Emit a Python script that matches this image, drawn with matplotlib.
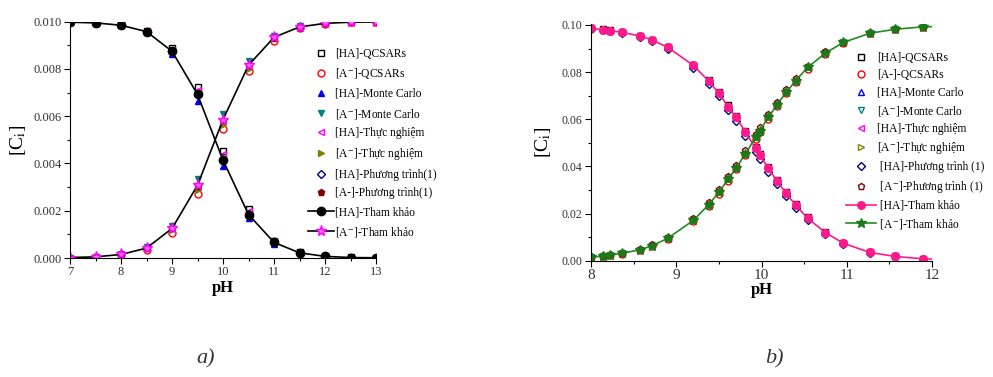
import numpy as np
import matplotlib.pyplot as plt
from matplotlib.ticker import MultipleLocator, FormatStrFormatter

plt.rcParams['font.family'] = ['Liberation Serif', 'DejaVu Serif']
plt.rcParams['mathtext.fontset'] = 'stix'

# ---------- panel a) data ----------
ph_a = [7, 7.5, 8, 8.5, 9, 9.5, 10, 10.5, 11, 11.5, 12, 12.5, 13]
ha_qcsar_a = [0.00998, 0.00995, 0.00986, 0.00962, 0.00890, 0.00722, 0.00452, 0.00208, 0.00072, 0.00024, 0.00008, 0.00003, 0.00001]
a_qcsar_a = [0.00002, 0.00005, 0.00013, 0.00034, 0.00105, 0.00272, 0.00544, 0.00790, 0.00920, 0.00975, 0.00992, 0.00997, 0.00999]
ha_mc_a = [0.00998, 0.00994, 0.00984, 0.00955, 0.00863, 0.00665, 0.00390, 0.00168, 0.00060, 0.00020, 0.00006, 0.00002, 0.00001]
a_mc_a = [0.00002, 0.00006, 0.00016, 0.00045, 0.00137, 0.00333, 0.00610, 0.00832, 0.00940, 0.00980, 0.00994, 0.00998, 0.00999]
ha_tn_a = [0.00998, 0.00995, 0.00985, 0.00960, 0.00880, 0.00712, 0.00440, 0.00200, 0.00070, 0.00023, 0.00007, 0.00002, 0.00001]
a_tn_a = [0.00002, 0.00005, 0.00015, 0.00040, 0.00118, 0.00288, 0.00562, 0.00800, 0.00930, 0.00977, 0.00993, 0.00998, 0.00999]
ha_pt_a = [0.00998, 0.00995, 0.00985, 0.00958, 0.00875, 0.00695, 0.00415, 0.00185, 0.00068, 0.00022, 0.00007, 0.00002, 0.00001]
a_pt_a = [0.00002, 0.00005, 0.00015, 0.00042, 0.00125, 0.00305, 0.00585, 0.00815, 0.00932, 0.00978, 0.00993, 0.00998, 0.00999]
ha_ref_a = [0.00998, 0.00995, 0.00985, 0.00958, 0.00875, 0.00692, 0.00414, 0.00184, 0.00066, 0.00022, 0.00007, 0.00002, 0.00001]
a_ref_a = [0.00002, 0.00005, 0.00015, 0.00042, 0.00125, 0.00308, 0.00586, 0.00816, 0.00934, 0.00978, 0.00993, 0.00998, 0.00999]

# ---------- panel b) data ----------
ph_b = [8.0, 8.14, 8.22, 8.36, 8.58, 8.72, 8.9, 9.2, 9.38, 9.5, 9.61, 9.7, 9.81,
        9.93, 9.98, 10.08, 10.18, 10.29, 10.4, 10.54, 10.75, 10.96, 11.27, 11.57, 11.89]
ha_qcsar_b = [0.0986, 0.0981, 0.0977, 0.0970, 0.0954, 0.0937, 0.0906, 0.0832, 0.0767, 0.0715, 0.0660, 0.0613, 0.0552,
              0.0482, 0.0452, 0.0397, 0.0343, 0.0290, 0.0240, 0.0185, 0.0122, 0.0076, 0.0036, 0.0019, 0.0009]
a_qcsar_b = [0.0014, 0.0019, 0.0023, 0.0030, 0.0046, 0.0063, 0.0094, 0.0168, 0.0233, 0.0285, 0.0340, 0.0387, 0.0448,
             0.0518, 0.0548, 0.0603, 0.0657, 0.0710, 0.0760, 0.0815, 0.0878, 0.0924, 0.0964, 0.0981, 0.0991]
ha_pt_b = [0.0985, 0.0980, 0.0975, 0.0967, 0.0950, 0.0931, 0.0898, 0.0818, 0.0750, 0.0697, 0.0640, 0.0593, 0.0530,
           0.0462, 0.0433, 0.0377, 0.0325, 0.0273, 0.0225, 0.0172, 0.0112, 0.0071, 0.0034, 0.0018, 0.0008]
a_pt_b = [0.0015, 0.0021, 0.0025, 0.0033, 0.0050, 0.0069, 0.0102, 0.0182, 0.0250, 0.0303, 0.0360, 0.0407, 0.0470,
          0.0538, 0.0567, 0.0623, 0.0675, 0.0727, 0.0775, 0.0828, 0.0888, 0.0929, 0.0966, 0.0982, 0.0992]
ha_ref_b = [0.0986, 0.0980, 0.0976, 0.0969, 0.0953, 0.0936, 0.0905, 0.0829, 0.0762, 0.0710, 0.0653, 0.0608, 0.0547,
            0.0477, 0.0448, 0.0392, 0.0338, 0.0286, 0.0236, 0.0180, 0.0119, 0.0074, 0.0035, 0.0018, 0.0008]
a_ref_b = [0.0014, 0.0020, 0.0024, 0.0031, 0.0047, 0.0064, 0.0095, 0.0171, 0.0238, 0.0290, 0.0347, 0.0392, 0.0453,
           0.0523, 0.0552, 0.0608, 0.0662, 0.0714, 0.0764, 0.0820, 0.0881, 0.0926, 0.0965, 0.0982, 0.0992]

AM = r'[A$^{-}$]'

fig = plt.figure(figsize=(9.93, 3.77), dpi=100)
ax1 = fig.add_axes([0.0705, 0.3156, 0.3082, 0.6268])
ax2 = fig.add_axes([0.5952, 0.3085, 0.3434, 0.6277])

ms = 5
# panel a
ax1.plot(ph_a, ha_qcsar_a, 's', mfc='none', mec='black', ms=ms, label='[HA]-QCSARs')
ax1.plot(ph_a, a_qcsar_a, 'o', mfc='none', mec='red', ms=ms, label=AM + '-QCSARs')
ax1.plot(ph_a, ha_mc_a, '^', color='blue', ms=ms, label='[HA]-Monte Carlo')
ax1.plot(ph_a, a_mc_a, 'v', color='#008080', ms=ms, label=AM + '-Monte Carlo')
ax1.plot(ph_a, ha_tn_a, '<', mfc='none', mec='magenta', ms=ms, label='[HA]-Thực nghiệm')
ax1.plot(ph_a, a_tn_a, '>', color='#808000', ms=ms, label=AM + '-Thực nghiệm')
ax1.plot(ph_a, ha_pt_a, 'D', mfc='none', mec='#000080', ms=4, label='[HA]-Phương trình(1)')
ax1.plot(ph_a, a_pt_a, 'p', color='#800000', ms=ms, label='[A-]-Phương trình(1)')
ax1.plot(ph_a, ha_ref_a, '-o', color='black', lw=1.2, ms=6, label='[HA]-Tham khảo')
ax1.plot(ph_a, a_ref_a, '-*', color='black', mfc='#ff66ff', mec='magenta', lw=1.2, ms=8, label=AM + '-Tham khảo')

ax1.set_xlim(7, 13)
ax1.set_ylim(0, 0.010)
ax1.xaxis.set_major_locator(MultipleLocator(1))
ax1.xaxis.set_minor_locator(MultipleLocator(0.5))
ax1.yaxis.set_major_locator(MultipleLocator(0.002))
ax1.yaxis.set_minor_locator(MultipleLocator(0.001))
ax1.yaxis.set_major_formatter(FormatStrFormatter('%.3f'))
ax1.set_xlabel('pH', fontsize=12, fontweight='bold', labelpad=1)
ax1.set_ylabel(r'[C$_\mathrm{i}$]', fontsize=14, labelpad=4)
ax1.legend(loc='upper left', bbox_to_anchor=(0.76, 0.915), frameon=False, fontsize=8.3,
           handlelength=2.2, handletextpad=0.1, labelspacing=0.58, borderpad=0)

# panel b
ax2.plot(ph_b, ha_qcsar_b, 's', mfc='none', mec='black', ms=ms, label='[HA]-QCSARs')
ax2.plot(ph_b, a_qcsar_b, 'o', mfc='none', mec='red', ms=ms, label='[A-]-QCSARs')
ax2.plot(ph_b, ha_ref_b, '^', mfc='none', mec='blue', ms=ms, label='[HA]-Monte Carlo')
ax2.plot(ph_b, a_ref_b, 'v', mfc='none', mec='#008080', ms=ms, label=AM + '-Monte Carlo')
ax2.plot(ph_b, ha_ref_b, '<', mfc='none', mec='magenta', ms=ms, label='[HA]-Thực nghiệm')
ax2.plot(ph_b, a_ref_b, '>', mfc='none', mec='#808000', ms=ms, label=AM + '-Thực nghiệm')
ax2.plot(ph_b, ha_pt_b, 'D', mfc='none', mec='#000080', ms=4.5, label=' [HA]-Phương trình (1)')
ax2.plot(ph_b, a_pt_b, 'p', mfc='none', mec='#800000', ms=ms, label=' ' + AM + '-Phương trình (1)')
ax2.plot(ph_b + [12.0], ha_ref_b + [0.0007], '-', color='#ff1a8c', lw=1.2)
ax2.plot(ph_b, ha_ref_b, 'o', color='#ff1a8c', ms=5.5)
ax2.plot(ph_b + [12.0], a_ref_b + [0.0993], '-', color='#228b22', lw=1.2)
ax2.plot(ph_b, a_ref_b, '*', color='#1a7a1a', ms=7)
ax2.plot([], [], '-o', color='#ff1a8c', lw=1.2, ms=5.5, label=' [HA]-Tham khảo')
ax2.plot([], [], '-*', color='#228b22', mfc='#1a7a1a', mec='#1a7a1a', lw=1.2, ms=7, label=' ' + AM + '-Tham khảo')

ax2.set_xlim(8, 12)
ax2.set_ylim(0, 0.1004)
ax2.xaxis.set_major_locator(MultipleLocator(1))
ax2.xaxis.set_minor_locator(MultipleLocator(0.5))
ax2.yaxis.set_major_locator(MultipleLocator(0.02))
ax2.yaxis.set_minor_locator(MultipleLocator(0.01))
ax2.yaxis.set_major_formatter(FormatStrFormatter('%.2f'))
ax2.set_xlabel('pH', fontsize=12, fontweight='bold', labelpad=0)
ax2.set_ylabel(r'[C$_\mathrm{i}$]', fontsize=14, labelpad=6)
ax2.legend(loc='upper left', bbox_to_anchor=(0.73, 0.905), frameon=False, fontsize=8.3,
           handlelength=2.6, handletextpad=0.1, labelspacing=0.45, borderpad=0)

for ax, xs, ys in ((ax1, 9, 9), (ax2, 11, 8.5)):
    ax.spines['top'].set_visible(False)
    ax.spines['right'].set_visible(False)
    ax.tick_params(which='major', direction='out', length=4, width=0.8)
    ax.tick_params(which='minor', direction='out', length=2.5, width=0.8)
    ax.tick_params(axis='x', labelsize=xs, pad=2)
    ax.tick_params(axis='y', labelsize=ys, pad=2)
    for t in ax.get_xticklabels() + ax.get_yticklabels():
        t.set_color('#333333')

fig.text(0.207, 0.035, 'a)', fontsize=16, style='italic', ha='center', color='#333333')
fig.text(0.78, 0.035, 'b)', fontsize=16, style='italic', ha='center', color='#333333')

fig.savefig('out.png', dpi=100)
